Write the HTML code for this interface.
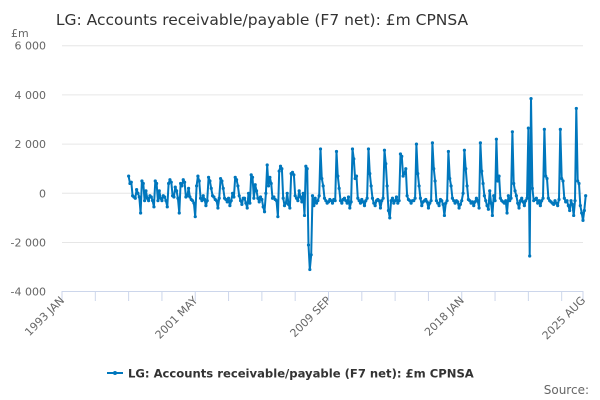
<!DOCTYPE html>
<html><head><meta charset="utf-8"><style>
body{margin:0;background:#fff;font-family:"DejaVu Sans","Liberation Sans",sans-serif;}
svg{display:block}
</style></head><body>
<svg id="chart" width="600" height="400" viewBox="0 0 600 400">
<text x="262" y="25" text-anchor="middle" font-size="15.5" fill="#333">LG: Accounts receivable/payable (F7 net): £m CPNSA</text>
<text x="11" y="37" font-size="11" fill="#666">£m</text>
<g id="grid"></g>
<g id="yt"></g>
<g id="xt"></g>
<g id="series"></g>
<g>
<line x1="107" y1="373" x2="123" y2="373" stroke="#0077bd" stroke-width="2"/>
<circle cx="115" cy="373" r="2" fill="#0077bd"/>
<text x="128" y="377.5" font-size="11.6" font-weight="bold" fill="#333">LG: Accounts receivable/payable (F7 net): £m CPNSA</text>
</g>
<text x="589" y="394" text-anchor="end" font-size="12" fill="#666">Source:</text>
</svg>
<script>
const startYear = 1997, startMonth = 3;
const values = [
700,400,450,-100,-150,-200,150,0,-150,-800,
500,400,-300,100,-200,-300,-100,-150,-300,-550,
500,400,-300,100,-200,-300,-100,-150,-300,-550,400,550,
450,-100,-150,250,100,-200,-800,400,300,550,450,-150,
-100,200,-150,-250,-300,-400,-950,300,700,500,-200,-300,
-100,-250,-500,-300,650,500,200,-100,-150,-250,-300,-600,
-200,600,500,200,-200,-250,-350,-200,-500,-300,0,-150,
650,550,300,-100,-300,-450,-200,-200,-400,-600,0,-400,
750,650,-200,350,100,-200,-350,-150,-250,-550,-750,0,
1150,300,650,400,-200,-150,-250,-300,-950,900,1100,1000,
-200,-500,-400,0,-450,-600,800,850,750,-100,-200,-300,
100,-150,-350,0,-900,1100,1000,-2100,-3100,-2500,-100,-500,
-200,-400,-300,-100,1800,600,300,-200,-300,-400,-350,-250,
-300,-400,-250,-300,1700,700,200,-300,-400,-250,-200,-300,
-400,-150,-600,-350,1800,1400,600,700,-200,-300,-400,-250,
-350,-500,-300,-200,1800,800,300,-200,-400,-500,-300,-250,
-300,-600,-300,-200,1750,1200,300,-700,-1000,-300,-200,-400,
-300,-150,-400,-300,1600,1500,700,800,1000,-100,-250,-300,
-400,-300,-300,-200,2000,800,300,-200,-500,-350,-300,-250,
-350,-600,-400,-300,2050,1000,500,-300,-400,-500,-250,-300,
-450,-900,-400,-300,1700,600,300,-200,-300,-400,-300,-350,
-600,-450,-300,0,1750,1000,300,-250,-300,-400,-350,-500,
-350,-200,-300,-600,2050,900,400,-100,-300,-500,-650,100,
-400,-900,-100,-300,2200,500,700,-200,-300,-350,-400,-300,
-800,-100,-300,-200,2500,400,100,-100,-400,-600,-300,-200,
-350,-500,-300,-200,2650,-2550,3850,200,-300,-250,-200,-400,
-300,-500,-300,-200,2600,700,600,-200,-300,-350,-400,-450,
-300,-400,-500,-250,2600,600,500,-200,-350,-300,-500,-700,
-300,-450,-900,-300,3450,500,400,-500,-800,-1100,-700,-100
];
const yTicks = [6000,4000,2000,0,-2000,-4000];
const yTickLabels = ["6 000","4 000","2 000","0","-2 000","-4 000"];
const xLabels = ["1993 JAN","2001 MAY","2009 SEP","2018 JAN","2025 AUG"];
const xLabelMonths = [0,100,200,300,391];
const xTickMonths = [0,25,50,75,100,125,150,175,200,225,250,275,300,325,350,375,391];

const NS="http://www.w3.org/2000/svg";
const X0=62,X1=583,M0=0,M1=391;
const xs=m=>X0+(m-M0)*(X1-X0)/(M1-M0);
const ys=v=>193.3-v*(246/10000);
function mk(t,a,p){const e=document.createElementNS(NS,t);for(const k in a)e.setAttribute(k,a[k]);p.appendChild(e);return e;}
const grid=document.getElementById('grid'),yt=document.getElementById('yt'),xt=document.getElementById('xt'),ser=document.getElementById('series');
yTicks.forEach((v,i)=>{
  if(v!==-4000){const g=mk('line',{x1:X0,x2:X1,y1:ys(v),y2:ys(v),stroke:'#e6e6e6','stroke-width':1},grid);
  
  }
  const t=mk('text',{x:46,y:ys(v)+4,'text-anchor':'end','font-size':11,fill:'#666'},yt);
  t.textContent=yTickLabels[i];
  
  
});
const ax=mk('line',{x1:X0,x2:X1,y1:291.5,y2:291.5,stroke:'#ccd6eb','stroke-width':1},xt);


xTickMonths.forEach(m=>{const l=mk('line',{x1:xs(m),x2:xs(m),y1:291,y2:301,stroke:'#ccd6eb','stroke-width':1},xt);
  
  });
xLabels.forEach((s,i)=>{const x=xs(xLabelMonths[i]);
  const t=mk('text',{x:x+3,y:301,'text-anchor':'end','font-size':11,fill:'#666',transform:`rotate(-45 ${x+3} 301)`},xt);
  t.textContent=s;
  
  });
const off=(startYear-1993)*12+(startMonth-1);
const pts=values.map((v,i)=>[xs(off+i),ys(v)]);
const pl=mk('polyline',{points:pts.map(p=>p[0].toFixed(1)+','+p[1].toFixed(1)).join(' '),fill:'none',stroke:'#0077bd','stroke-width':2,'stroke-linejoin':'round'},ser);


pts.forEach(p=>{const c=mk('circle',{cx:p[0],cy:p[1],r:1.6,fill:'#0077bd'},ser);
  
  });
</script>
</body></html>
